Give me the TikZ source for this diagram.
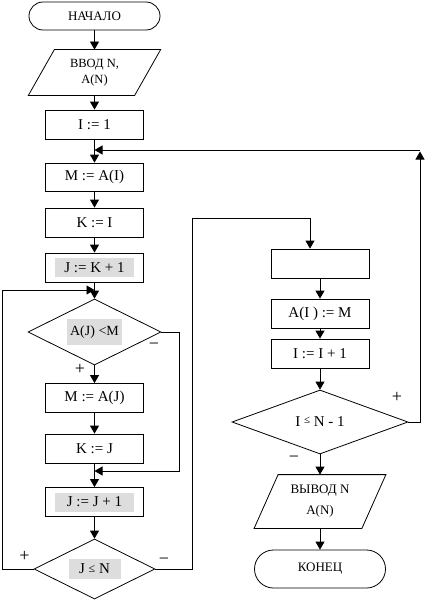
\documentclass[tikz,border=0pt]{standalone}
\usepackage{fontspec}
\setmainfont{Liberation Serif}
\usetikzlibrary{arrows.meta,shapes.geometric,calc}
\definecolor{hlgray}{RGB}{221,221,221}
\begin{document}
\begin{tikzpicture}[x=1pt,y=-1pt,line width=0.8pt,
  every node/.style={font=\fontsize{15}{17}\selectfont},
  proc/.style={draw,rectangle,minimum width=98pt,minimum height=29pt,inner sep=0pt},
  termbox/.style={draw,rectangle,minimum width=131pt,inner sep=0pt,font=\fontsize{13}{15}\selectfont},
  iotext/.style={rectangle,inner sep=0pt,align=center},
  dec/.style={draw,diamond,inner sep=0pt},
  arr/.style={-{Triangle[length=8pt,width=9pt]}},
  lbl/.style={inner sep=0pt,font=\fontsize{18}{20}\selectfont},
  hl/.style 2 args={path picture={\fill[hlgray] ($(path picture bounding box.center)+(-#1/2,-#2/2)$) rectangle ++(#1,#2);}}]
\useasboundingbox (0,0) rectangle (427,602);

% left column
\node[termbox,rounded corners=14pt,minimum height=28pt] (start) at (94.5,16) {НАЧАЛО};
\node[iotext,minimum width=105.5pt,minimum height=45pt,font=\fontsize{12.5}{16}\selectfont] (in) at (94.5,72.5) {ВВОД N,\\A(N)};
\draw ($(in.south west)+(-13,0)$) -- ($(in.north west)+(13,0)$) -- ($(in.north east)+(13,0)$) -- ($(in.south east)+(-13,0)$) -- cycle;
\node[proc] (i1) at (94.5,124.5) {I := 1};
\node[proc,minimum height=28pt] (mai) at (94.5,177) {M := A(I)};
\node[proc] (ki) at (94.5,222.5) {K := I};
\node[proc,hl={79pt}{19pt}] (jk) at (94.5,267.5) {J := K + 1};
\node[dec,minimum width=133pt,minimum height=66pt,hl={55pt}{26pt},font=\fontsize{14}{16}\selectfont] (d1) at (94.5,332) {A(J) <M};
\node[proc] (maj) at (94.5,398) {M := A(J)};
\node[proc] (kj) at (94.5,448.5) {K := J};
\node[proc,hl={79pt}{19pt}] (jj) at (94.5,502) {J := J + 1};
\node[dec,minimum width=121pt,minimum height=60pt,hl={52pt}{20pt}] (d3) at (94.5,569) {J {\fontsize{12}{12}\selectfont\raisebox{1pt}{≤}} N};

% right column
\node[proc] (emp) at (320,263.5) {};
\node[proc] (aim) at (320,313.5) {A(I ) := M};
\node[proc] (ii) at (320,353.5) {I := I + 1};
\node[dec,minimum width=176pt,minimum height=64pt] (d2) at (320,422) {I {\fontsize{11}{11}\selectfont\raisebox{3pt}{≤}} N - 1};
\node[iotext,minimum width=107pt,minimum height=53pt,font=\fontsize{13}{21}\selectfont] (out) at (320,501.5) {ВЫВОД N\\A(N)};
\draw ($(out.south west)+(-12,0)$) -- ($(out.north west)+(12,0)$) -- ($(out.north east)+(12,0)$) -- ($(out.south east)+(-12,0)$) -- cycle;
\node[termbox,rounded corners=19pt,minimum height=38pt] (end) at (320,569) {КОНЕЦ};

% helper coordinates
\coordinate (rt) at (420,150);
\coordinate (c1) at (179,471);
\coordinate (lt) at (2,290);
\coordinate (mt) at (192,218);
\coordinate (et) at (310,218);

% connectors left
\draw[arr] (start.south) -- (in.north);
\draw[arr] (in.south) -- (i1.north);
\draw[arr] (i1.south) -- (mai.north);
\draw[arr] (mai.south) -- (ki.north);
\draw[arr] (ki.south) -- (jk.north);
\draw[arr] (jk.south) -- (d1.north);
\draw[arr] (d1.south) -- (maj.north);
\draw[arr] (maj.south) -- (kj.north);
\draw[arr] (kj.south) -- (jj.north);
\draw[arr] (jj.south) -- (d3.north);
\draw[arr] (d1.east) -- (d1.east -| c1) -- (c1) -- (c1 -| kj.south);
\draw[arr] (d3.west) -- (d3.west -| lt) -- (lt) -- (lt -| jk.south);
\draw[arr] (d3.east) -- (d3.east -| mt) -- (mt) -- (et) -- (et |- emp.north);

% connectors right
\draw[arr] (emp.south) -- (aim.north);
\draw[arr] (aim.south) -- (ii.north);
\draw[arr] (ii.south) -- (d2.north);
\draw[arr] (d2.south) -- (out.north);
\draw[arr] (out.south) -- (end.north);
\draw[arr] (d2.east) -- (d2.east -| rt) -- ($(rt)+(0,1.5)$);
\draw[arr] (rt) -- (rt -| mai.north);

% labels
\node[lbl] (l1) at (80,369) {+};
\node[lbl] (l2) at (154,346) {−};
\node[lbl] (l3) at (24.5,556) {+};
\node[lbl] (l4) at (164,561) {−};
\node[lbl] (l5) at (397,397) {+};
\node[lbl] (l6) at (294,459) {−};
\end{tikzpicture}
\end{document}
